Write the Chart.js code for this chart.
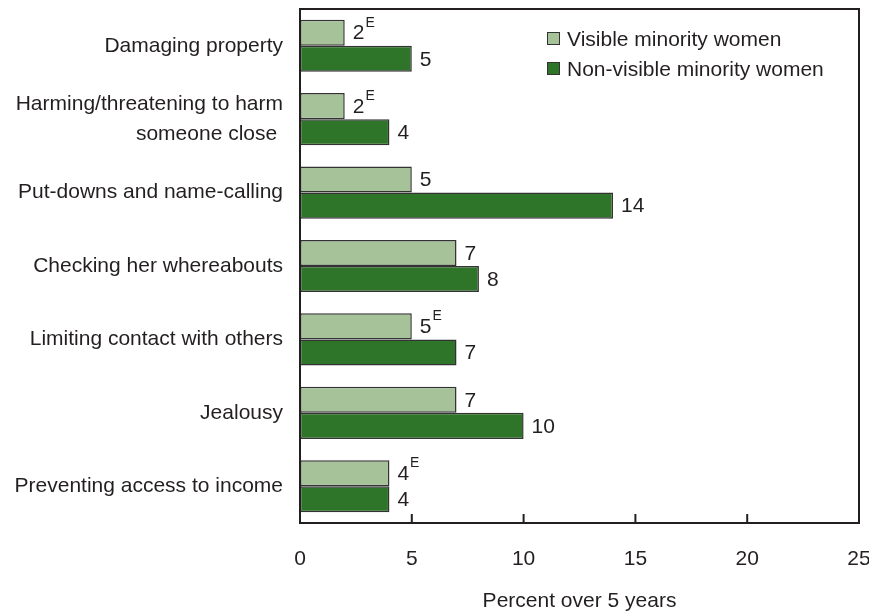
<!DOCTYPE html>
<html>
<head>
<meta charset="utf-8">
<script src="https://cdn.jsdelivr.net/npm/chart.js@4/dist/chart.umd.min.js"></script>
<style>
  body { margin: 0; background: #fff; }
  canvas { display: block; }
</style>
</head>
<body>
<canvas id="myChart" width="869" height="613"></canvas>
<script>
// values
const categories = [
  'Damaging property',
  ['Harming/threatening to harm', 'someone close '],
  'Put-downs and name-calling',
  'Checking her whereabouts',
  'Limiting contact with others',
  'Jealousy',
  'Preventing access to income'
];
const seriesNames = ['Visible minority women', 'Non-visible minority women'];
const visibleValues = [2, 2, 5, 7, 5, 7, 4];
const nonVisibleValues = [5, 4, 14, 8, 7, 10, 4];
// "E" = use with caution
const visibleFlags = [true, true, false, false, true, false, true];
const nonVisibleFlags = [false, false, false, false, false, false, false];
const xTicks = [0, 5, 10, 15, 20, 25];
const axisTitle = 'Percent over 5 years';

const FONT = '"Liberation Sans", Arial, sans-serif';
const INK = '#231f20';

const extras = {
  id: 'extras',
  afterDatasetsDraw(chart) {
    const ctx = chart.ctx;
    const flags = [visibleFlags, nonVisibleFlags];
    ctx.save();
    ctx.fillStyle = INK;
    ctx.textBaseline = 'middle';
    chart.data.datasets.forEach((ds, i) => {
      chart.getDatasetMeta(i).data.forEach((bar, j) => {
        const x = bar.x + 8;
        const y = bar.y + 1;
        ctx.font = '21px ' + FONT;
        ctx.textAlign = 'left';
        const txt = String(ds.data[j]);
        ctx.fillText(txt, x, y);
        if (flags[i][j]) {
          const w = ctx.measureText(txt).width;
          ctx.font = '14px ' + FONT;
          ctx.fillText('E', x + w + 1, y - 11);
        }
      });
    });
    ctx.restore();
  },
  afterDraw(chart) {
    const ctx = chart.ctx;
    const a = chart.chartArea;
    const xs = chart.scales.x;
    ctx.save();
    // frame
    ctx.strokeStyle = INK;
    ctx.lineWidth = 2;
    ctx.strokeRect(a.left, a.top, a.right - a.left, a.bottom - a.top);
    // inward tick marks
    xTicks.forEach(v => {
      const px = xs.getPixelForValue(v);
      ctx.beginPath();
      ctx.moveTo(px, a.bottom);
      ctx.lineTo(px, a.bottom - 9);
      ctx.stroke();
    });
    // axis title
    ctx.fillStyle = INK;
    ctx.font = '21px ' + FONT;
    ctx.textAlign = 'center';
    ctx.textBaseline = 'middle';
    ctx.fillText(axisTitle, (a.left + a.right) / 2, 601);
    // legend
    ctx.textAlign = 'left';
    chart.data.datasets.forEach((ds, i) => {
      const cy = 38 + i * 30;
      ctx.fillStyle = ds.backgroundColor;
      ctx.fillRect(547, cy - 6, 13, 13);
      ctx.lineWidth = 1;
      ctx.strokeStyle = '#333';
      ctx.strokeRect(547.5, cy - 5.5, 12, 12);
      ctx.fillStyle = INK;
      ctx.fillText(ds.label, 567, cy + 2);
    });
    ctx.restore();
  }
};

new Chart(document.getElementById('myChart'), {
  type: 'bar',
  data: {
    labels: categories,
    datasets: [{
      label: seriesNames[0],
      data: visibleValues,
      backgroundColor: '#a5c298',
      borderColor: '#333',
      borderWidth: 1.5,
      borderSkipped: false
    }, {
      label: seriesNames[1],
      data: nonVisibleValues,
      backgroundColor: '#2f7529',
      borderColor: '#333',
      borderWidth: 1.5,
      borderSkipped: false
    }]
  },
  options: {
    indexAxis: 'y',
    responsive: false,
    animation: false,
    categoryPercentage: 0.71,
    barPercentage: 1.0,
    layout: { padding: { top: 9, right: 10, left: 0, bottom: 0 } },
    scales: {
      x: {
        min: 0,
        max: 25,
        afterBuildTicks: s => { s.ticks = xTicks.map(v => ({ value: v })); },
        afterFit: s => {
          s.height = 90;
          s.paddingLeft = 0; s.paddingRight = 0;
        },
        grid: { display: false, drawTicks: false },
        border: { display: false },
        ticks: { padding: 24, color: INK, font: { family: FONT, size: 21 } }
      },
      y: {
        afterFit: s => {
          s.width = 300;
          s.paddingTop = 0; s.paddingBottom = 0;
        },
        grid: { display: false, drawTicks: false },
        border: { display: false },
        ticks: { padding: 17, color: INK, font: { family: FONT, size: 21, lineHeight: 1.4 } }
      }
    },
    plugins: {
      legend: { display: false },
      tooltip: { enabled: false }
    }
  },
  plugins: [extras]
});
</script>
</body>
</html>
